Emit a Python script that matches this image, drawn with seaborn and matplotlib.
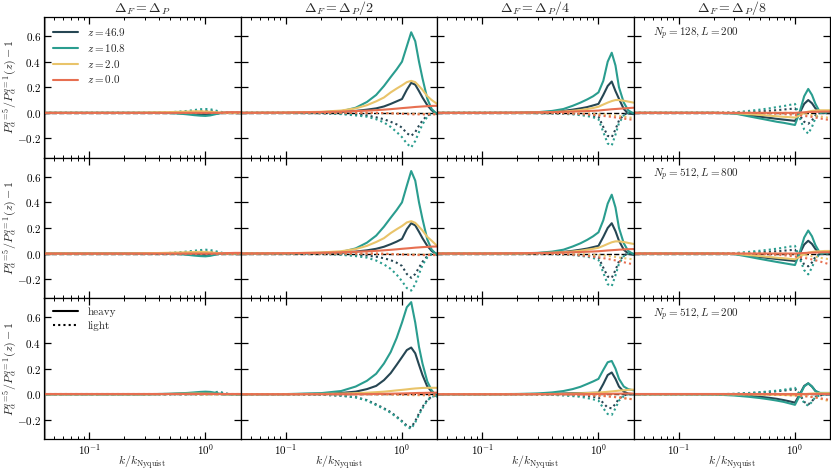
import matplotlib
matplotlib.use("Agg")
import matplotlib.pyplot as plt
from matplotlib.lines import Line2D
import pandas as pd
import seaborn as sns

# k / k_Nyquist sample points shared by every curve
k_grid = [0.041, 0.1, 0.2, 0.3, 0.4, 0.5, 0.6, 0.7, 0.8, 0.9, 1.0,
          1.1, 1.2, 1.3, 1.4, 1.5, 1.65, 1.8, 2.0]
redshifts = ["46.9", "10.8", "2.0", "0.0"]
z_colors = ["#264653", "#2a9d8f", "#e9c46a", "#e76f51"]
col_titles = [r"$\Delta_F = \Delta_P$", r"$\Delta_F = \Delta_P/2$",
              r"$\Delta_F = \Delta_P/4$", r"$\Delta_F = \Delta_P/8$"]
row_notes = [r"$N_p = 128, L = 200$", r"$N_p = 512, L = 800$", r"$N_p = 512, L = 200$"]
species_names = ["heavy", "light"]

# each block: rows are z = 46.9, 10.8, 2.0, 0.0
# ---- row 1: Np=128, L=200
heavy_r1c1 = [
    [0, 0, 0, 0, 0, 0, -0.002, -0.004, -0.007, -0.01, -0.012, -0.01, -0.006, -0.003, 0, 0, 0, 0, 0],
    [0, 0, 0, 0, 0, -0.002, -0.006, -0.012, -0.018, -0.022, -0.024, -0.02, -0.012, -0.005, 0, 0, 0, 0, 0],
    [0, 0, 0, 0.002, 0.004, 0.006, 0.008, 0.01, 0.012, 0.012, 0.01, 0.008, 0.005, 0.003, 0.001, 0, 0, 0, 0],
    [0, 0, 0, 0, 0, 0, 0, 0, 0, 0, 0, 0, 0, 0, 0.002, 0.004, 0.005, 0.005, 0.005],
]
light_r1c1 = [
    [0, 0, 0, 0, 0, 0.002, 0.004, 0.007, 0.01, 0.013, 0.015, 0.013, 0.009, 0.005, 0.002, 0, 0, 0, 0],
    [0, 0, 0, 0, 0.002, 0.005, 0.01, 0.015, 0.022, 0.028, 0.03, 0.028, 0.02, 0.012, 0.005, 0.002, 0, 0, 0],
    [0, 0, 0, 0, 0.001, 0.002, 0.004, 0.006, 0.008, 0.01, 0.01, 0.008, 0.005, 0.002, 0, 0, 0, 0, 0],
    [0, 0, 0, 0, 0, 0, 0, 0, 0, 0, 0, 0, 0, 0, 0, 0, 0, 0, 0],
]
heavy_r1c2 = [
    [0, 0, 0.002, 0.006, 0.015, 0.025, 0.035, 0.05, 0.07, 0.09, 0.108, 0.18, 0.235, 0.22, 0.17, 0.12, 0.06, 0.02, -0.01],
    [0, 0, 0.005, 0.012, 0.04, 0.085, 0.14, 0.21, 0.28, 0.34, 0.40, 0.52, 0.63, 0.56, 0.4, 0.27, 0.11, 0.03, -0.01],
    [0, 0.002, 0.008, 0.018, 0.035, 0.06, 0.09, 0.12, 0.16, 0.19, 0.215, 0.24, 0.25, 0.24, 0.21, 0.18, 0.13, 0.1, 0.07],
    [0, 0.002, 0.006, 0.01, 0.014, 0.017, 0.021, 0.025, 0.029, 0.033, 0.037, 0.04, 0.043, 0.046, 0.048, 0.05, 0.052, 0.054, 0.055],
]
light_r1c2 = [
    [0, 0, -0.002, -0.006, -0.012, -0.02, -0.035, -0.05, -0.07, -0.09, -0.115, -0.16, -0.18, -0.15, -0.1, -0.06, -0.02, -0.005, 0],
    [0, 0, -0.003, -0.01, -0.02, -0.03, -0.05, -0.075, -0.11, -0.15, -0.19, -0.24, -0.27, -0.22, -0.15, -0.09, -0.03, -0.005, 0],
    [0, 0, 0, 0, 0, 0, -0.001, -0.002, -0.003, -0.004, -0.005, -0.006, -0.007, -0.008, -0.008, -0.008, -0.008, -0.008, -0.008],
    [0, 0, 0, 0, 0, 0, 0, -0.002, -0.004, -0.006, -0.008, -0.01, -0.012, -0.012, -0.012, -0.012, -0.012, -0.012, -0.012],
]
heavy_r1c3 = [
    [0, 0, 0, 0.003, 0.008, 0.015, 0.025, 0.035, 0.045, 0.058, 0.07, 0.14, 0.21, 0.245, 0.17, 0.11, 0.03, -0.005, -0.01],
    [0, 0, 0.001, 0.005, 0.015, 0.03, 0.055, 0.08, 0.105, 0.13, 0.16, 0.25, 0.4, 0.47, 0.37, 0.2, 0.08, 0.02, -0.005],
    [0, 0, 0, 0.003, 0.006, 0.01, 0.016, 0.022, 0.03, 0.038, 0.048, 0.065, 0.08, 0.092, 0.1, 0.1, 0.095, 0.088, 0.08],
    [0, 0, 0.002, 0.004, 0.006, 0.008, 0.01, 0.012, 0.014, 0.016, 0.018, 0.022, 0.025, 0.028, 0.03, 0.032, 0.035, 0.037, 0.04],
]
light_r1c3 = [
    [0, 0, 0, -0.001, -0.003, -0.005, -0.008, -0.012, -0.017, -0.023, -0.03, -0.11, -0.18, -0.19, -0.13, -0.06, -0.015, 0, 0],
    [0, 0, 0, -0.002, -0.005, -0.008, -0.012, -0.018, -0.025, -0.035, -0.05, -0.15, -0.24, -0.255, -0.17, -0.08, -0.02, 0, 0],
    [0, 0, 0, 0, 0, 0, -0.002, -0.004, -0.006, -0.008, -0.01, -0.013, -0.016, -0.019, -0.022, -0.025, -0.03, -0.035, -0.04],
    [0, 0, 0, 0, -0.002, -0.004, -0.007, -0.01, -0.013, -0.016, -0.02, -0.024, -0.028, -0.032, -0.036, -0.04, -0.045, -0.05, -0.055],
]
heavy_r1c4 = [
    [0, 0, 0, -0.003, -0.018, -0.03, -0.039, -0.047, -0.053, -0.058, -0.063, 0.0, 0.07, 0.1, 0.075, 0.035, 0.0, 0.0, 0.005],
    [0, 0, 0, -0.004, -0.027, -0.044, -0.058, -0.07, -0.078, -0.087, -0.095, 0.01, 0.13, 0.187, 0.14, 0.07, 0.0, 0.005, 0.01],
    [0, 0, 0, -0.002, -0.01, -0.016, -0.022, -0.027, -0.031, -0.034, -0.037, -0.02, 0.0, 0.01, 0.015, 0.018, 0.02, 0.02, 0.02],
    [0, 0, 0, 0, 0, 0, 0, 0, 0, 0, 0, 0.002, 0.004, 0.006, 0.007, 0.008, 0.009, 0.01, 0.01],
]
light_r1c4 = [
    [0, 0, 0, 0.001, 0.006, 0.011, 0.016, 0.021, 0.026, 0.03, 0.035, -0.02, -0.07, -0.085, -0.06, -0.02, 0.0, 0.0, 0.0],
    [0, 0, 0, 0.003, 0.015, 0.025, 0.035, 0.045, 0.053, 0.062, 0.07, -0.04, -0.13, -0.163, -0.11, -0.04, 0.0, 0.0, 0.0],
    [0, 0, 0, 0, 0, 0, 0, 0, 0, 0, -0.002, -0.006, -0.01, -0.014, -0.018, -0.022, -0.028, -0.034, -0.04],
    [0, 0, 0, 0, 0, -0.002, -0.004, -0.007, -0.01, -0.013, -0.016, -0.02, -0.024, -0.028, -0.032, -0.037, -0.044, -0.05, -0.057],
]

# ---- row 2: Np=512, L=800
heavy_r2c1 = [
    [0, 0, 0, 0, 0, 0, -0.002, -0.004, -0.006, -0.009, -0.011, -0.009, -0.005, -0.002, 0, 0, 0, 0, 0],
    [0, 0, 0, 0, 0, -0.002, -0.005, -0.01, -0.016, -0.02, -0.022, -0.018, -0.01, -0.004, 0, 0, 0, 0, 0],
    [0, 0, 0, 0.002, 0.004, 0.006, 0.008, 0.01, 0.012, 0.013, 0.012, 0.009, 0.006, 0.003, 0.001, 0, 0, 0, 0],
    [0, 0, 0, 0, 0, 0, 0, 0, 0, 0, 0, 0, 0, 0.001, 0.002, 0.003, 0.004, 0.005, 0.005],
]
light_r2c1 = [
    [0, 0, 0, 0, 0, 0.002, 0.004, 0.007, 0.01, 0.013, 0.014, 0.012, 0.008, 0.004, 0.002, 0, 0, 0, 0],
    [0, 0, 0, 0, 0.002, 0.005, 0.01, 0.016, 0.022, 0.027, 0.03, 0.027, 0.02, 0.012, 0.005, 0.002, 0, 0, 0],
    [0, 0, 0, 0, 0.001, 0.002, 0.004, 0.006, 0.008, 0.01, 0.01, 0.008, 0.005, 0.002, 0, 0, 0, 0, 0],
    [0, 0, 0, 0, 0, 0, 0, 0, 0, 0, 0, 0, 0, 0, 0, 0, 0, 0, 0],
]
heavy_r2c2 = [
    [0, 0, 0.002, 0.006, 0.015, 0.025, 0.037, 0.053, 0.073, 0.093, 0.114, 0.19, 0.237, 0.22, 0.17, 0.12, 0.06, 0.02, -0.01],
    [0, 0, 0.005, 0.012, 0.04, 0.085, 0.14, 0.21, 0.28, 0.34, 0.40, 0.53, 0.645, 0.57, 0.4, 0.27, 0.11, 0.03, -0.01],
    [0, 0.002, 0.008, 0.018, 0.035, 0.06, 0.09, 0.12, 0.16, 0.19, 0.215, 0.243, 0.253, 0.24, 0.21, 0.18, 0.13, 0.1, 0.06],
    [0, 0.002, 0.006, 0.01, 0.014, 0.017, 0.021, 0.025, 0.029, 0.033, 0.037, 0.04, 0.043, 0.046, 0.048, 0.05, 0.052, 0.054, 0.055],
]
light_r2c2 = [
    [0, 0, -0.002, -0.005, -0.01, -0.016, -0.025, -0.037, -0.052, -0.072, -0.097, -0.16, -0.19, -0.16, -0.11, -0.065, -0.02, -0.005, 0],
    [0, 0, -0.003, -0.01, -0.02, -0.032, -0.055, -0.085, -0.12, -0.165, -0.216, -0.27, -0.29, -0.24, -0.16, -0.09, -0.03, -0.005, 0],
    [0, 0, 0, 0, 0, 0, -0.001, -0.002, -0.003, -0.004, -0.005, -0.006, -0.007, -0.008, -0.008, -0.008, -0.008, -0.008, -0.008],
    [0, 0, 0, 0, 0, 0, 0, -0.002, -0.004, -0.006, -0.008, -0.01, -0.012, -0.012, -0.012, -0.012, -0.012, -0.012, -0.012],
]
heavy_r2c3 = [
    [0, 0, 0, 0.003, 0.007, 0.013, 0.021, 0.03, 0.039, 0.05, 0.06, 0.13, 0.2, 0.237, 0.175, 0.1, 0.03, 0.0, -0.01],
    [0, 0, 0.001, 0.005, 0.015, 0.03, 0.055, 0.08, 0.107, 0.135, 0.166, 0.26, 0.39, 0.46, 0.36, 0.2, 0.08, 0.02, -0.005],
    [0, 0, 0, 0.003, 0.006, 0.01, 0.016, 0.022, 0.03, 0.037, 0.045, 0.06, 0.075, 0.088, 0.095, 0.095, 0.09, 0.083, 0.075],
    [0, 0, 0.002, 0.004, 0.006, 0.008, 0.01, 0.012, 0.014, 0.016, 0.018, 0.021, 0.024, 0.026, 0.028, 0.03, 0.032, 0.034, 0.035],
]
light_r2c3 = [
    [0, 0, 0, -0.001, -0.003, -0.005, -0.008, -0.012, -0.017, -0.023, -0.03, -0.11, -0.18, -0.19, -0.13, -0.06, -0.015, 0, 0],
    [0, 0, 0, -0.002, -0.005, -0.008, -0.012, -0.018, -0.025, -0.035, -0.05, -0.15, -0.24, -0.255, -0.17, -0.08, -0.02, 0, 0],
    [0, 0, 0, 0, 0, 0, -0.002, -0.004, -0.007, -0.01, -0.013, -0.016, -0.019, -0.023, -0.027, -0.031, -0.036, -0.041, -0.045],
    [0, 0, 0, 0, -0.003, -0.006, -0.01, -0.015, -0.02, -0.025, -0.03, -0.036, -0.042, -0.048, -0.054, -0.06, -0.068, -0.076, -0.085],
]
heavy_r2c4 = [
    [0, 0, 0, -0.003, -0.016, -0.027, -0.036, -0.043, -0.049, -0.054, -0.058, 0.0, 0.07, 0.1, 0.075, 0.035, 0.0, 0.0, 0.005],
    [0, 0, 0, -0.004, -0.025, -0.042, -0.055, -0.066, -0.075, -0.083, -0.09, 0.01, 0.125, 0.18, 0.135, 0.065, 0.0, 0.005, 0.01],
    [0, 0, 0, -0.002, -0.012, -0.02, -0.027, -0.033, -0.037, -0.041, -0.045, -0.025, -0.005, 0.006, 0.012, 0.016, 0.018, 0.02, 0.02],
    [0, 0, 0, 0, 0, 0, 0, 0, 0, 0, 0, 0.002, 0.004, 0.006, 0.007, 0.008, 0.009, 0.01, 0.01],
]
light_r2c4 = [
    [0, 0, 0, 0.001, 0.005, 0.01, 0.014, 0.018, 0.022, 0.026, 0.03, -0.03, -0.085, -0.1, -0.07, -0.025, 0.0, 0.0, 0.0],
    [0, 0, 0, 0.003, 0.013, 0.022, 0.03, 0.038, 0.046, 0.054, 0.06, -0.04, -0.13, -0.163, -0.11, -0.04, 0.0, 0.0, 0.0],
    [0, 0, 0, 0, 0, 0, 0, 0, 0, -0.002, -0.005, -0.009, -0.013, -0.017, -0.021, -0.026, -0.033, -0.039, -0.045],
    [0, 0, 0, 0, 0, -0.003, -0.006, -0.01, -0.014, -0.018, -0.023, -0.028, -0.034, -0.04, -0.046, -0.053, -0.063, -0.073, -0.085],
]

# ---- row 3: Np=512, L=200
heavy_r3c1 = [
    [0, 0, 0, 0, 0.001, 0.002, 0.004, 0.006, 0.008, 0.01, 0.01, 0.008, 0.005, 0.002, 0, 0, 0, 0, 0],
    [0, 0, 0, 0, 0.002, 0.004, 0.007, 0.01, 0.014, 0.018, 0.02, 0.018, 0.012, 0.005, 0, 0, 0, 0, 0],
    [0, 0, 0, 0, 0.001, 0.002, 0.003, 0.004, 0.005, 0.005, 0.005, 0.004, 0.003, 0.002, 0.001, 0, 0, 0, 0],
    [0, 0, 0, 0, 0, 0, 0, 0, 0, 0, 0, 0, 0, 0, 0, 0, 0, 0, 0],
]
light_r3c1 = [
    [0, 0, 0, 0, 0, 0, 0, 0, 0, 0, 0, 0.004, 0.01, 0.014, 0.01, 0.004, 0, 0, 0],
    [0, 0, 0, 0, 0, 0, 0, 0, 0, 0, 0, 0.005, 0.015, 0.02, 0.012, 0.005, 0, 0, 0],
    [0, 0, 0, 0, 0, 0, 0, 0, -0.001, -0.002, -0.003, -0.003, -0.003, -0.002, -0.001, 0, 0, 0, 0],
    [0, 0, 0, 0, 0, 0, 0, 0, 0, 0, 0, 0, 0, 0, 0, 0, 0, 0, 0],
]
heavy_r3c2 = [
    [0, 0, 0.004, 0.01, 0.02, 0.04, 0.065, 0.11, 0.165, 0.23, 0.29, 0.345, 0.365, 0.32, 0.23, 0.15, 0.06, 0.02, -0.01],
    [0, 0.001, 0.008, 0.025, 0.06, 0.105, 0.16, 0.24, 0.33, 0.44, 0.56, 0.68, 0.72, 0.56, 0.37, 0.24, 0.1, 0.03, -0.02],
    [0, 0, 0.002, 0.005, 0.008, 0.012, 0.016, 0.02, 0.025, 0.03, 0.034, 0.038, 0.042, 0.045, 0.047, 0.049, 0.05, 0.05, 0.05],
    [0, 0, 0, 0, 0, 0.001, 0.002, 0.003, 0.004, 0.005, 0.006, 0.007, 0.008, 0.009, 0.01, 0.01, 0.011, 0.012, 0.012],
]
light_r3c2 = [
    [0, 0, -0.004, -0.011, -0.023, -0.046, -0.08, -0.11, -0.14, -0.175, -0.21, -0.245, -0.26, -0.21, -0.15, -0.1, -0.045, -0.018, -0.01],
    [0, 0, -0.004, -0.012, -0.025, -0.05, -0.085, -0.115, -0.145, -0.18, -0.215, -0.255, -0.27, -0.22, -0.16, -0.11, -0.05, -0.02, -0.01],
    [0, 0, 0, 0, 0, 0, -0.001, -0.002, -0.003, -0.004, -0.005, -0.006, -0.007, -0.008, -0.008, -0.009, -0.009, -0.01, -0.01],
    [0, 0, 0, 0, 0, 0, 0, 0, 0, -0.001, -0.002, -0.002, -0.003, -0.003, -0.004, -0.004, -0.005, -0.005, -0.005],
]
heavy_r3c3 = [
    [0, 0, 0, 0.002, 0.004, 0.006, 0.008, 0.009, 0.01, 0.011, 0.012, 0.08, 0.15, 0.17, 0.12, 0.06, 0.02, 0.005, 0],
    [0, 0, 0.002, 0.006, 0.014, 0.025, 0.04, 0.058, 0.08, 0.1, 0.12, 0.19, 0.25, 0.26, 0.2, 0.12, 0.06, 0.04, 0.03],
    [0, 0, 0, 0.001, 0.002, 0.003, 0.005, 0.007, 0.009, 0.011, 0.013, 0.016, 0.019, 0.022, 0.025, 0.028, 0.031, 0.034, 0.036],
    [0, 0, 0, 0, 0, 0, 0, 0.001, 0.001, 0.002, 0.002, 0.002, 0.003, 0.003, 0.004, 0.004, 0.005, 0.005, 0.005],
]
light_r3c3 = [
    [0, 0, 0, -0.001, -0.003, -0.005, -0.008, -0.011, -0.015, -0.02, -0.025, -0.07, -0.105, -0.11, -0.075, -0.035, -0.01, 0, 0],
    [0, 0, 0, -0.002, -0.005, -0.01, -0.015, -0.02, -0.03, -0.04, -0.05, -0.11, -0.155, -0.162, -0.11, -0.05, -0.015, 0, 0],
    [0, 0, 0, 0, 0, 0, -0.002, -0.004, -0.006, -0.008, -0.01, -0.013, -0.016, -0.019, -0.022, -0.025, -0.03, -0.035, -0.04],
    [0, 0, 0, 0, 0, -0.001, -0.003, -0.005, -0.007, -0.009, -0.011, -0.014, -0.017, -0.02, -0.023, -0.026, -0.031, -0.036, -0.04],
]
heavy_r3c4 = [
    [0, 0, 0, -0.005, -0.012, -0.02, -0.028, -0.036, -0.046, -0.056, -0.066, 0.0, 0.065, 0.085, 0.06, 0.025, 0.005, 0.0, 0.0],
    [0, 0, -0.002, -0.01, -0.02, -0.03, -0.04, -0.05, -0.06, -0.072, -0.083, -0.01, 0.06, 0.085, 0.06, 0.025, 0.01, 0.01, 0.01],
    [0, 0, 0, -0.001, -0.002, -0.003, -0.004, -0.005, -0.006, -0.007, -0.008, -0.004, 0.0, 0.003, 0.005, 0.006, 0.007, 0.008, 0.008],
    [0, 0, 0, 0, 0, 0, 0, 0, 0, 0, 0, 0, 0, 0, 0, 0, 0, 0, 0],
]
light_r3c4 = [
    [0, 0, 0, 0.002, 0.008, 0.013, 0.018, 0.023, 0.028, 0.034, 0.04, 0.0, -0.06, -0.08, -0.055, -0.02, -0.01, 0, 0],
    [0, 0, 0, 0.003, 0.01, 0.016, 0.022, 0.028, 0.035, 0.042, 0.05, 0.0, -0.07, -0.09, -0.06, -0.02, -0.01, 0, 0],
    [0, 0, 0, 0, 0, 0, 0, 0, 0, 0, 0, -0.005, -0.01, -0.015, -0.02, -0.025, -0.035, -0.045, -0.055],
    [0, 0, 0, 0, 0, 0, -0.002, -0.004, -0.006, -0.008, -0.01, -0.013, -0.016, -0.019, -0.022, -0.026, -0.032, -0.038, -0.045],
]

heavy = [[heavy_r1c1, heavy_r1c2, heavy_r1c3, heavy_r1c4],
         [heavy_r2c1, heavy_r2c2, heavy_r2c3, heavy_r2c4],
         [heavy_r3c1, heavy_r3c2, heavy_r3c3, heavy_r3c4]]
light = [[light_r1c1, light_r1c2, light_r1c3, light_r1c4],
         [light_r2c1, light_r2c2, light_r2c3, light_r2c4],
         [light_r3c1, light_r3c2, light_r3c3, light_r3c4]]

sns.set_style("ticks")
plt.rcParams.update({
    "font.family": ["cmr10", "DejaVu Serif"],
    "mathtext.fontset": "cm",
    "axes.formatter.use_mathtext": True,
    "axes.linewidth": 0.9,
    "axes.edgecolor": "black",
    "xtick.color": "black",
    "ytick.color": "black",
})

fig, axes = plt.subplots(3, 4, figsize=(8.31, 4.70), sharex=True, sharey=True)
fig.subplots_adjust(left=0.053, right=0.9988, top=0.964, bottom=0.066,
                    wspace=0, hspace=0)

for r in range(3):
    for c in range(4):
        ax = axes[r, c]
        records = []
        for species, block in zip(species_names, (heavy[r][c], light[r][c])):
            for z, vals in zip(redshifts, block):
                for k, v in zip(k_grid, vals):
                    records.append({"k": k, "ratio": v, "z": z, "species": species})
        df = pd.DataFrame(records)

        ax.axhline(0, color="black", ls="--", lw=1.0, zorder=1)
        sns.lineplot(data=df, x="k", y="ratio", hue="z", hue_order=redshifts,
                     palette=z_colors, style="species", style_order=species_names,
                     dashes={"heavy": "", "light": (1, 1.5)}, estimator=None,
                     lw=1.5, legend=False, ax=ax, zorder=2)

        ax.set_xscale("log")
        ax.set_xlim(0.041, 2.0)
        ax.set_ylim(-0.35, 0.75)
        ax.set_yticks([-0.2, 0.0, 0.2, 0.4, 0.6])
        ax.tick_params(which="both", direction="in", top=True, right=True,
                       labelsize=8)
        ax.tick_params(axis="x", which="major", pad=2.5)
        ax.tick_params(axis="y", which="major", pad=2)
        ax.tick_params(which="major", length=5, width=0.9)
        ax.tick_params(which="minor", length=2.5, width=0.7)
        ax.set_xlabel("")
        ax.set_ylabel("")

        if r == 0:
            ax.set_title(col_titles[c], fontsize=10, pad=3)
        if c == 0:
            ax.axvline(0.0415, color="0.6", lw=1.5, zorder=0)
            ax.set_ylabel(r"$P_\alpha^{q=5}/P_\alpha^{q=1}(z) - 1$", fontsize=8.5,
                          va="center")
            ax.yaxis.set_label_coords(-0.17, 0.5)
        if r == 2:
            ax.set_xlabel(r"$k/k_{\rm Nyquist}$", fontsize=8.5, va="center")
            ax.xaxis.set_label_coords(0.5, -0.165)
        if c == 3:
            ax.text(0.1, 0.88, row_notes[r], transform=ax.transAxes,
                    fontsize=8, va="center", ha="left")

z_handles = [Line2D([], [], color=col, lw=1.5) for col in z_colors]
axes[0, 0].legend(z_handles, [rf"$z = {z}$" for z in redshifts], loc="upper left",
                  frameon=False, fontsize=8, handlelength=2.3, labelspacing=0.35,
                  borderaxespad=0.4)
sp_handles = [Line2D([], [], color="black", lw=1.5),
              Line2D([], [], color="black", lw=1.5, ls=(0, (1, 1.5)))]
axes[2, 0].legend(sp_handles, species_names, loc="upper left", frameon=False,
                  fontsize=8, handlelength=2.3, labelspacing=0.35, borderaxespad=0.4)

fig.savefig("out.png", dpi=100)
